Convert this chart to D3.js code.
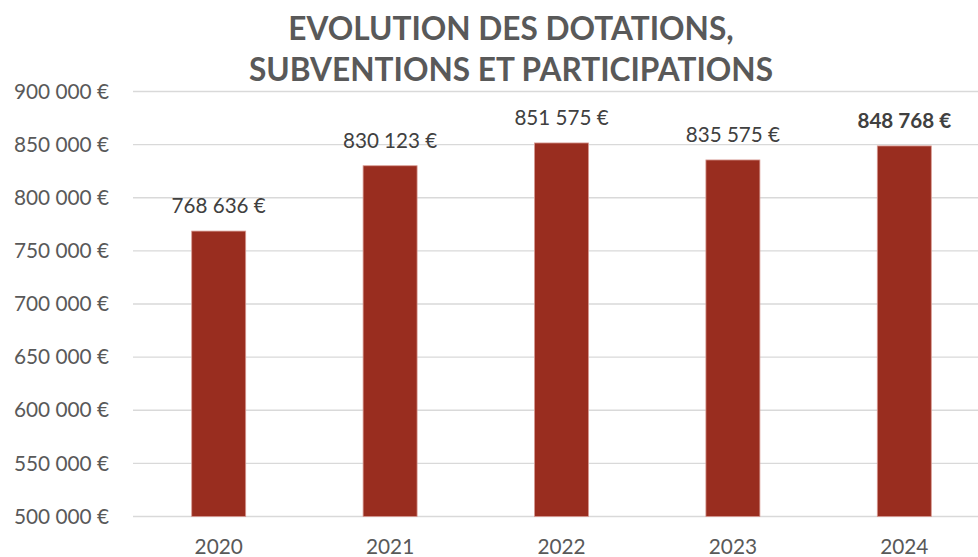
<!DOCTYPE html>
<html>
<head>
<meta charset="utf-8">
<script src="https://cdn.jsdelivr.net/npm/d3@7"></script>
<style>
  body { margin: 0; background: #fff; }
  svg { display: block; font-family: Lato, "Open Sans", sans-serif; }
</style>
</head>
<body>
<svg id="chart" width="978" height="557"></svg>
<script>
// values
var years = ['2020', '2021', '2022', '2023', '2024'];
var amounts = [768636, 830123, 851575, 835575, 848768];
var yTicks = [500000, 550000, 600000, 650000, 700000, 750000, 800000, 850000, 900000];
var titleLines = ['EVOLUTION DES DOTATIONS,', 'SUBVENTIONS ET PARTICIPATIONS'];

var svg = d3.select('#chart');
var plotLeft = 133, plotRight = 990, plotTop = 91.5, plotBottom = 516.5;

var x = d3.scaleBand().domain(years).range([plotLeft, plotRight]).paddingInner(0.685).paddingOuter(0.3425);
var y = d3.scaleLinear().domain([500000, 900000]).range([plotBottom, plotTop]);

// french style thousands: 768 636 €
var fmt = function (v) { return d3.format(',')(v).replace(/,/g, ' ') + ' €'; };

// title
svg.append('g').selectAll('text')
  .data(titleLines)
  .enter().append('text')
  .attr('x', 511)
  .attr('y', function (d, i) { return 40 + i * 41; })
  .attr('text-anchor', 'middle')
  .attr('font-size', 31.6)
  .attr('font-weight', 'bold')
  .attr('fill', '#595959')
  .text(function (d) { return d; });

// gridlines
svg.append('g').selectAll('line')
  .data(yTicks)
  .enter().append('line')
  .attr('x1', plotLeft).attr('x2', 978)
  .attr('y1', function (d) { return y(d); })
  .attr('y2', function (d) { return y(d); })
  .attr('stroke', '#d9d9d9')
  .attr('stroke-width', 1.3);

// y axis labels
var yAxis = d3.axisLeft(y).tickValues(yTicks).tickSize(0).tickPadding(24).tickFormat(fmt);
var gy = svg.append('g').attr('transform', 'translate(' + plotLeft + ',0)').call(yAxis);
gy.select('.domain').remove();
gy.selectAll('text').attr('font-size', 20.8).attr('fill', '#595959').attr('font-family', 'Lato, sans-serif');

// x axis labels
var xAxis = d3.axisBottom(x).tickSize(0).tickPadding(23);
var gx = svg.append('g').attr('transform', 'translate(0,' + plotBottom + ')').call(xAxis);
gx.select('.domain').remove();
gx.selectAll('text').attr('font-size', 20.8).attr('fill', '#595959').attr('font-family', 'Lato, sans-serif');

// bars
svg.append('g').selectAll('rect')
  .data(amounts)
  .enter().append('rect')
  .attr('x', function (d, i) { return x(years[i]); })
  .attr('y', function (d) { return y(d); })
  .attr('width', x.bandwidth())
  .attr('height', function (d) { return plotBottom - y(d); })
  .attr('fill', '#992d1f')
  .attr('stroke', '#d89a92')
  .attr('stroke-width', 0.8);

// value labels, last one in bold
svg.append('g').selectAll('text')
  .data(amounts)
  .enter().append('text')
  .attr('x', function (d, i) { return x(years[i]) + x.bandwidth() / 2; })
  .attr('y', function (d) { return y(d) - 18; })
  .attr('text-anchor', 'middle')
  .attr('font-size', 20.6)
  .attr('font-weight', function (d, i) { return i === amounts.length - 1 ? 'bold' : 'normal'; })
  .attr('fill', '#404040')
  .text(fmt);
</script>
</body>
</html>
